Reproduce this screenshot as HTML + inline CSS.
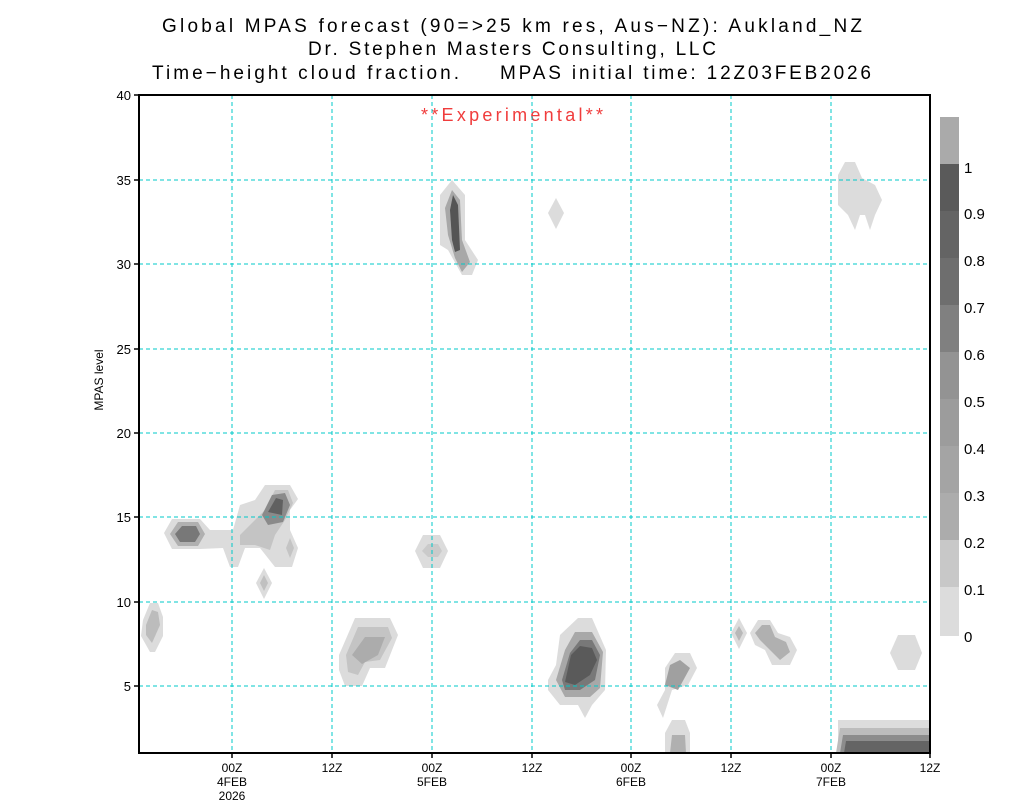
<!DOCTYPE html>
<html><head><meta charset="utf-8"><style>
html,body{margin:0;padding:0;background:#fff;}
svg text{font-family:"Liberation Sans","DejaVu Sans",sans-serif;}
</style></head><body>
<svg width="1024" height="800" viewBox="0 0 1024 800" xmlns="http://www.w3.org/2000/svg">
<rect width="1024" height="800" fill="#fff"/>
<g font-size="19" fill="#000">
<text x="162" y="32" textLength="700" lengthAdjust="spacing">Global MPAS forecast (90=&gt;25 km res, Aus−NZ): Aukland_NZ</text>
<text x="308" y="55" textLength="408" lengthAdjust="spacing">Dr. Stephen Masters Consulting, LLC</text>
<text x="152" y="79" textLength="307" lengthAdjust="spacing">Time−height cloud fraction.</text>
<text x="500" y="79" textLength="371" lengthAdjust="spacing">MPAS initial time: 12Z03FEB2026</text>
</g>
<text x="421" y="121" font-size="18" fill="#f03c3c" textLength="182" lengthAdjust="spacing">**Experimental**</text>
<g>
<polygon points="143,620 150,603 158,603 163,617 163,636 155,652 150,652 141,636" fill="#dcdcdc"/>
<polygon points="146,625 152,610 158,612 160,625 152,643 146,635" fill="#bcbcbc"/>
<polygon points="164,533 172,519 200,519 210,530 233,530 240,505 255,500 265,485 290,485 298,499 290,510 290,530 298,548 292,567 275,567 260,548 245,548 238,567 230,567 223,548 200,549 172,549" fill="#dcdcdc"/>
<polygon points="170,534 178,522 198,522 205,534 198,546 178,546" fill="#b0b0b0"/>
<polygon points="175,534 182,526 196,526 200,534 195,542 180,542" fill="#787878"/>
<polygon points="240,535 250,525 265,510 275,490 288,490 293,503 285,520 275,535 270,550 255,545 240,545" fill="#c4c4c4"/>
<polygon points="262,515 272,495 285,493 290,505 283,522 268,525" fill="#8a8a8a"/>
<polygon points="268,512 276,498 283,500 282,515" fill="#606060"/>
<polygon points="286,548 290,538 294,548 290,558" fill="#c4c4c4"/>
<polygon points="256,583 264,568 272,583 264,599" fill="#dcdcdc"/>
<polygon points="260,583 264,575 268,583 264,591" fill="#c0c0c0"/>
<polygon points="415,551 423,535 440,535 448,551 440,568 423,568" fill="#dcdcdc"/>
<polygon points="422,551 428,544 438,544 442,551 438,557 428,557" fill="#cacaca"/>
<polygon points="339,655 355,618 390,618 398,635 385,668 370,668 362,686 345,686 339,670" fill="#dcdcdc"/>
<polygon points="346,655 358,627 388,627 392,638 380,660 365,662 358,675 348,672" fill="#c4c4c4"/>
<polygon points="352,655 365,637 385,637 378,655 362,664" fill="#acacac"/>
<polygon points="440,215 440,195 452,180 465,195 465,240 478,260 472,275 462,275 448,250 440,245" fill="#dcdcdc"/>
<polygon points="445,208 452,190 460,200 462,240 470,262 462,272 455,258 448,235" fill="#a8a8a8"/>
<polygon points="450,210 453,195 458,205 460,250 455,252 452,240" fill="#555555"/>
<polygon points="548,213 556,198 564,213 556,229" fill="#dcdcdc"/>
<polygon points="548,680 556,665 560,635 578,618 592,618 606,650 605,690 592,705 585,718 578,705 560,705 548,690" fill="#dcdcdc"/>
<polygon points="556,680 565,650 575,632 592,632 603,652 600,688 590,697 565,697" fill="#a8a8a8"/>
<polygon points="562,680 570,653 580,640 592,640 600,655 595,680 580,690 565,690" fill="#787878"/>
<polygon points="565,682 571,655 580,646 592,648 597,660 590,675 575,685" fill="#5a5a5a"/>
<polygon points="657,705 665,690 665,668 675,653 690,653 697,668 688,685 672,690 663,718" fill="#dcdcdc"/>
<polygon points="665,685 670,665 680,660 690,668 678,690" fill="#a0a0a0"/>
<polygon points="665,753 665,733 672,720 685,720 690,733 690,753" fill="#dcdcdc"/>
<polygon points="670,753 672,735 685,735 686,753" fill="#b0b0b0"/>
<polygon points="731,633 739,618 747,633 739,649" fill="#dcdcdc"/>
<polygon points="735,633 739,626 743,633 739,641" fill="#b8b8b8"/>
<polygon points="750,633 758,620 770,620 778,633 790,637 797,650 790,665 772,665 765,650 755,645" fill="#dcdcdc"/>
<polygon points="755,633 762,625 770,625 775,637 786,642 790,652 780,660 770,650 760,640" fill="#b0b0b0"/>
<polygon points="838,195 838,175 845,162 855,162 862,178 875,185 882,200 875,215 870,230 865,215 860,215 855,230 848,215 838,205" fill="#dcdcdc"/>
<polygon points="890,653 898,635 915,635 922,653 915,670 898,670" fill="#dcdcdc"/>
<rect x="838" y="720" width="92" height="33" fill="#dcdcdc"/>
<polygon points="836,753 840,728 930,728 930,753" fill="#bcbcbc"/>
<polygon points="840,753 843,735 930,735 930,753" fill="#8c8c8c"/>
<polygon points="844,753 846,741 930,741 930,753" fill="#646464"/>
</g>
<g stroke="#00c8c8" stroke-width="1" stroke-dasharray="4,3" fill="none">
<line x1="139" y1="180" x2="930" y2="180"/>
<line x1="139" y1="264" x2="930" y2="264"/>
<line x1="139" y1="349" x2="930" y2="349"/>
<line x1="139" y1="433" x2="930" y2="433"/>
<line x1="139" y1="517" x2="930" y2="517"/>
<line x1="139" y1="602" x2="930" y2="602"/>
<line x1="139" y1="686" x2="930" y2="686"/>
<line x1="232" y1="95" x2="232" y2="753"/>
<line x1="332" y1="95" x2="332" y2="753"/>
<line x1="432" y1="95" x2="432" y2="753"/>
<line x1="532" y1="95" x2="532" y2="753"/>
<line x1="631" y1="95" x2="631" y2="753"/>
<line x1="731" y1="95" x2="731" y2="753"/>
<line x1="831" y1="95" x2="831" y2="753"/>
</g>
<rect x="139" y="95" width="791" height="658" fill="none" stroke="#000" stroke-width="2"/>
<g stroke="#000" stroke-width="1.5">
<line x1="134" y1="95" x2="139" y2="95"/><line x1="134" y1="180" x2="139" y2="180"/><line x1="134" y1="264" x2="139" y2="264"/>
<line x1="134" y1="349" x2="139" y2="349"/><line x1="134" y1="433" x2="139" y2="433"/><line x1="134" y1="517" x2="139" y2="517"/>
<line x1="134" y1="602" x2="139" y2="602"/><line x1="134" y1="686" x2="139" y2="686"/>
<line x1="232" y1="753" x2="232" y2="758"/><line x1="332" y1="753" x2="332" y2="758"/><line x1="432" y1="753" x2="432" y2="758"/>
<line x1="532" y1="753" x2="532" y2="758"/><line x1="631" y1="753" x2="631" y2="758"/><line x1="731" y1="753" x2="731" y2="758"/>
<line x1="831" y1="753" x2="831" y2="758"/><line x1="930" y1="753" x2="930" y2="758"/>
</g>
<g font-size="13" text-anchor="end" fill="#000">
<text x="131" y="100">40</text><text x="131" y="185">35</text><text x="131" y="269">30</text><text x="131" y="354">25</text>
<text x="131" y="438">20</text><text x="131" y="522">15</text><text x="131" y="607">10</text><text x="131" y="691">5</text>
</g>
<text x="103" y="380" font-size="12" text-anchor="middle" transform="rotate(-90 103 380)">MPAS level</text>
<g font-size="12" text-anchor="middle" fill="#000">
<text x="232" y="772">00Z</text><text x="232" y="786">4FEB</text><text x="232" y="800">2026</text>
<text x="332" y="772">12Z</text>
<text x="432" y="772">00Z</text><text x="432" y="786">5FEB</text>
<text x="532" y="772">12Z</text>
<text x="631" y="772">00Z</text><text x="631" y="786">6FEB</text>
<text x="731" y="772">12Z</text>
<text x="831" y="772">00Z</text><text x="831" y="786">7FEB</text>
<text x="930" y="772">12Z</text>
</g>
<g>
<rect x="940" y="117" width="19" height="47" fill="#aaaaaa"/>
<rect x="940" y="164" width="19" height="47" fill="#5a5a5a"/>
<rect x="940" y="211" width="19" height="47" fill="#646464"/>
<rect x="940" y="258" width="19" height="47" fill="#6e6e6e"/>
<rect x="940" y="305" width="19" height="47" fill="#808080"/>
<rect x="940" y="352" width="19" height="47" fill="#939393"/>
<rect x="940" y="399" width="19" height="47" fill="#9c9c9c"/>
<rect x="940" y="446" width="19" height="47" fill="#a4a4a4"/>
<rect x="940" y="493" width="19" height="47" fill="#acacac"/>
<rect x="940" y="540" width="19" height="47" fill="#c8c8c8"/>
<rect x="940" y="587" width="19" height="49" fill="#dcdcdc"/>
</g>
<g font-size="15" fill="#000">
<text x="964" y="173">1</text><text x="964" y="219">0.9</text><text x="964" y="266">0.8</text><text x="964" y="313">0.7</text>
<text x="964" y="360">0.6</text><text x="964" y="407">0.5</text><text x="964" y="454">0.4</text><text x="964" y="501">0.3</text>
<text x="964" y="548">0.2</text><text x="964" y="595">0.1</text><text x="964" y="642">0</text>
</g>
</svg>
</body></html>
